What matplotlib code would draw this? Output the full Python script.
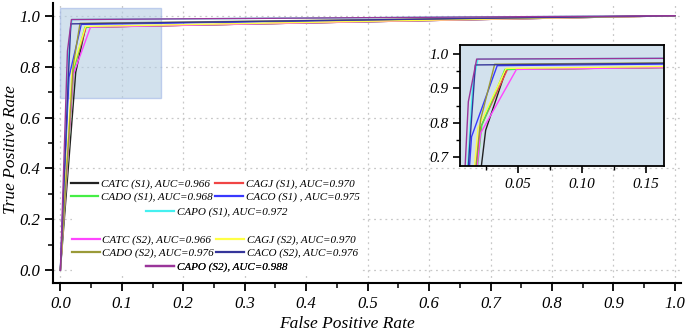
import matplotlib
matplotlib.use("Agg")
import matplotlib.pyplot as plt
from matplotlib.patches import Rectangle
from matplotlib.ticker import MultipleLocator, FormatStrFormatter

plt.rcParams['font.family'] = ['Liberation Serif', 'DejaVu Serif']
plt.rcParams['font.style'] = 'italic'

labels = ['CATC (S1), AUC=0.966', 'CAGJ (S1), AUC=0.970', 'CADO (S1), AUC=0.968',
          'CACO (S1) , AUC=0.975', 'CAPO (S1), AUC=0.972',
          'CATC (S2), AUC=0.966', 'CAGJ (S2), AUC=0.970', 'CADO (S2), AUC=0.976',
          'CACO (S2), AUC=0.976', 'CAPO (S2), AUC=0.988']
colors = ['#222222', '#f04545', '#45ee45', '#3838ff', '#45f0f0',
          '#ff45ff', '#ffff45', '#9a9a38', '#35359a', '#9a359a']

fpr_catc_s1 = [0, 0.025, 0.041, 1]
tpr_catc_s1 = [0, 0.778, 0.955, 1]
fpr_cagj_s1 = [0, 0.021, 0.042, 1]
tpr_cagj_s1 = [0, 0.786, 0.955, 1]
fpr_cado_s1 = [0, 0.022, 0.040, 1]
tpr_cado_s1 = [0, 0.793, 0.955, 1]
fpr_caco_s1 = [0, 0.014, 0.034, 1]
tpr_caco_s1 = [0, 0.759, 0.966, 1]
fpr_capo_s1 = [0, 0.015, 0.019, 1]
tpr_capo_s1 = [0, 0.915, 0.985, 1]
fpr_catc_s2 = [0, 0.021, 0.049, 1]
tpr_catc_s2 = [0, 0.769, 0.955, 1]
fpr_cagj_s2 = [0, 0.019, 0.041, 1]
tpr_cagj_s2 = [0, 0.784, 0.958, 1]
fpr_cado_s2 = [0, 0.021, 0.032, 1]
tpr_cado_s2 = [0, 0.808, 0.970, 1]
fpr_caco_s2 = [0, 0.013, 0.017, 1]
tpr_caco_s2 = [0, 0.759, 0.968, 1]
fpr_capo_s2 = [0, 0.0115, 0.018, 1]
tpr_capo_s2 = [0, 0.861, 0.985, 1]

fprs = [fpr_catc_s1, fpr_cagj_s1, fpr_cado_s1, fpr_caco_s1, fpr_capo_s1,
        fpr_catc_s2, fpr_cagj_s2, fpr_cado_s2, fpr_caco_s2, fpr_capo_s2]
tprs = [tpr_catc_s1, tpr_cagj_s1, tpr_cado_s1, tpr_caco_s1, tpr_capo_s1,
        tpr_catc_s2, tpr_cagj_s2, tpr_cado_s2, tpr_caco_s2, tpr_capo_s2]

W, H = 685, 334
fig = plt.figure(figsize=(W / 100, H / 100), dpi=100)
ax = fig.add_axes([53 / W, (H - 283) / H, (681 - 53) / W, 280 / H])

ax.set_xlim(-0.012, 1.01)
ax.set_ylim(-0.05, 1.05)
for s in ['top', 'right']:
    ax.spines[s].set_visible(False)
for s in ['left', 'bottom']:
    ax.spines[s].set_linewidth(1.5)
ax.xaxis.set_major_locator(MultipleLocator(0.1))
ax.xaxis.set_minor_locator(MultipleLocator(0.05))
ax.yaxis.set_major_locator(MultipleLocator(0.2))
ax.yaxis.set_minor_locator(MultipleLocator(0.1))
ax.xaxis.set_major_formatter(FormatStrFormatter('%.1f'))
ax.yaxis.set_major_formatter(FormatStrFormatter('%.1f'))
ax.tick_params(which='major', direction='out', length=6, width=1.3, labelsize=12)
ax.tick_params(which='minor', direction='out', length=3.5, width=1.1)
ax.grid(True, which='major', linestyle=(0, (1.5, 3)), color='#c8c8c8', linewidth=0.9)
ax.set_axisbelow(True)

ax.add_patch(Rectangle((0.0, 0.675), 0.163, 0.355, facecolor='#b4cde2', alpha=0.6,
                       edgecolor='#9fb5e6', linewidth=1.0, zorder=1.5))

lines = []
for f, t, c, lab in zip(fprs, tprs, colors, labels):
    ln, = ax.plot(f, t, color=c, linewidth=1.0, label=lab, zorder=3)
    lines.append(ln)

ax.set_xlabel('False Positive Rate', fontsize=12.5, va='center')
ax.set_ylabel('True Positive Rate', fontsize=12.5, va='center')
ax.xaxis.set_label_coords((347 - 53) / 628, (283 - 324) / 280)
ax.yaxis.set_label_coords((11 - 53) / 628, (283 - 150) / 280)

# white box behind the legend
ax.add_patch(Rectangle((0.030, 0.025), 0.459, 0.371, transform=ax.transAxes,
                       facecolor='white', edgecolor='none', zorder=2.5))

leg_prop = {'family': 'Liberation Serif', 'style': 'italic', 'size': 8}
leg_kw = dict(frameon=False, prop=leg_prop, handlelength=2.5, handletextpad=0.25,
              columnspacing=0.2, labelspacing=0.2, borderpad=0, borderaxespad=0,
              loc='center')

def add_leg(handles, ncol, xc, yc):
    lg = ax.legend(handles=handles, ncol=ncol, bbox_to_anchor=(xc, yc),
                   bbox_transform=ax.transAxes, **leg_kw)
    for h in lg.get_lines():
        h.set_linewidth(1.6)
    lg.set_zorder(4)
    ax.add_artist(lg)
    return lg

add_leg([lines[0], lines[2], lines[1], lines[3]], 2, 0.258, 0.330)
add_leg([lines[4]], 1, 0.261, 0.254)
add_leg([lines[5], lines[7], lines[6], lines[8]], 2, 0.258, 0.130)
add_leg([lines[9]], 1, 0.261, 0.057)

# inset
ins = fig.add_axes([460 / W, (H - 166) / H, 204 / W, 121 / H])
ins.set_facecolor('#d2e1ed')
for f, t, c in zip(fprs, tprs, colors):
    ins.plot(f, t, color=c, linewidth=1.0)
ins.set_xlim(0.005, 0.164)
ins.set_ylim(0.674, 1.026)
ins.xaxis.set_major_locator(MultipleLocator(0.05))
ins.xaxis.set_minor_locator(MultipleLocator(0.025))
ins.yaxis.set_major_locator(MultipleLocator(0.1))
ins.yaxis.set_minor_locator(MultipleLocator(0.05))
ins.xaxis.set_major_formatter(FormatStrFormatter('%.2f'))
ins.yaxis.set_major_formatter(FormatStrFormatter('%.1f'))
ins.tick_params(which='major', direction='out', length=5, width=1.2, labelsize=11)
ins.tick_params(which='minor', direction='out', length=3, width=1.0)
for s in ins.spines.values():
    s.set_linewidth(1.3)

fig.savefig('out.png', dpi=100, facecolor='white')
